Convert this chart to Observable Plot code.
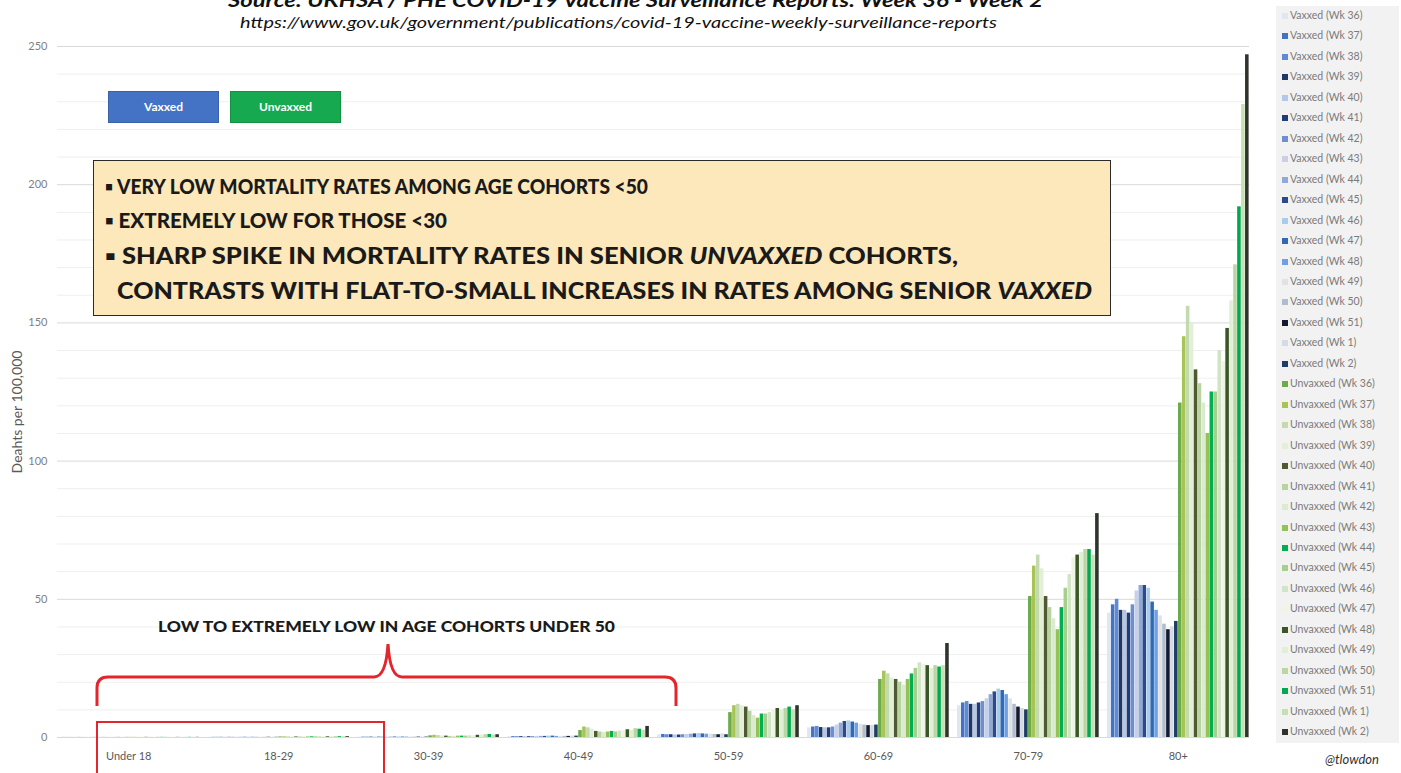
<!DOCTYPE html>
<html><head><meta charset="utf-8">
<script src="https://cdn.jsdelivr.net/npm/d3@7"></script>
<script src="https://cdn.jsdelivr.net/npm/@observablehq/plot@0.6"></script>
<style>
body{margin:0;background:#fff;}
#wrap{position:relative;width:1401px;height:773px;overflow:hidden;font-family:Lato,"Open Sans",sans-serif;}
#chart{position:absolute;left:0;top:0;}
.abs{position:absolute;white-space:nowrap;}
.title{left:228px;top:-12px;font-weight:bold;font-style:italic;font-size:19px;color:#111;}
.url{left:240px;top:12px;font-style:italic;font-size:16px;color:#111;}
.key{height:30px;width:109px;top:91px;color:#fff;font-weight:bold;font-size:12px;line-height:30px;text-align:center;}
.note{left:93px;top:160px;width:1018px;height:156px;background:#fce8bb;border:1.5px solid #2a2a2a;box-sizing:border-box;}
.note div{position:absolute;font-weight:900;font-size:22px;color:#1a1a1a;white-space:nowrap;}
.low{left:158px;top:617px;font-weight:900;font-size:15px;color:#1a1a1a;}
.leg{left:1276px;top:6px;width:123px;height:737px;background:#f2f2f2;}
.leg div{position:absolute;left:6px;font-size:10.5px;color:#7a7a7a;white-space:nowrap;line-height:12px;}
.leg span{display:inline-block;width:6px;height:6px;margin-right:2px;vertical-align:0px;}
.handle{left:1325px;top:751px;font-style:italic;font-size:13px;color:#333;}
</style></head><body><div id="wrap"></div>
<script>
const groups = ["Under 18","18-29","30-39","40-49","50-59","60-69","70-79","80+"];
const weeks = ["Wk 36","Wk 37","Wk 38","Wk 39","Wk 40","Wk 41","Wk 42","Wk 43","Wk 44","Wk 45","Wk 46","Wk 47","Wk 48","Wk 49","Wk 50","Wk 51","Wk 1","Wk 2"];
const statuses = ["Vaxxed","Unvaxxed"];
const yTicks = [0,50,100,150,200,250];

// Deaths per 100,000, one value per week
const vaxUnder18 = [0.03,0.03,0.03,0.02,0.03,0.03,0.02,0.03,0.03,0.03,0.04,0.03,0.03,0.03,0.03,0.03,0.04,0.03];
const unvUnder18 = [0.05,0.06,0.05,0.05,0.06,0.05,0.05,0.06,0.06,0.07,0.06,0.06,0.05,0.06,0.06,0.07,0.06,0.06];
const vax18to29 = [0.06,0.06,0.07,0.06,0.06,0.06,0.07,0.07,0.08,0.08,0.08,0.07,0.07,0.07,0.07,0.08,0.08,0.07];
const unv18to29 = [0.2,0.25,0.25,0.2,0.2,0.2,0.2,0.22,0.25,0.25,0.3,0.3,0.25,0.25,0.3,0.3,0.25,0.3];
const vax30to39 = [0.12,0.13,0.14,0.13,0.12,0.12,0.13,0.14,0.15,0.16,0.17,0.16,0.15,0.15,0.14,0.14,0.16,0.15];
const unv30to39 = [0.6,0.8,0.7,0.6,0.5,0.4,0.4,0.5,0.5,0.5,0.6,0.7,0.8,0.9,1.0,1.1,0.9,1.0];
const vax40to49 = [0.3,0.3,0.3,0.3,0.3,0.3,0.3,0.4,0.4,0.4,0.5,0.5,0.4,0.4,0.4,0.4,0.5,0.5];
const unv40to49 = [2.5,3.8,3.5,3.0,2.2,2.0,1.8,2.0,2.2,2.0,2.3,2.5,2.8,2.6,3.2,3.0,2.6,4.0];
const vax50to59 = [1.0,1.1,1.0,1.0,0.9,0.9,1.0,1.1,1.2,1.3,1.4,1.3,1.2,1.2,1.1,1.0,1.3,1.0];
const unv50to59 = [9,11.5,12,11.5,11,9.5,8,7,8.5,8.5,9,10,10.5,10,10.5,11,10,11.5];
const vax60to69 = [3.5,3.8,4.0,3.6,3.5,3.5,3.8,4.5,5.2,5.8,6.0,5.6,5.2,4.8,4.5,4.3,4.4,4.5];
const unv60to69 = [21,24,23,21.5,21,20,19,21,23,25,27,26.5,26,25,26,25.5,26,34];
const vax70to79 = [11.5,12.5,13,12,12,12.5,13,14,15.5,16.5,17.5,17,15.5,14,12,11,10.5,10];
const unv70to79 = [51,62,66,61,51,47,43,39,47,54,59,65,66,67,68,68,66,81];
const vax80plus = [45,48,50,46,46,45,48,53,55,55,54,49,46,44,41,39,40,42];
const unv80plus = [121,145,156,150,133,128,121,110,125,125,140,136,148,158,171,192,229,247];

const vaxColors = ["#dfe7f3","#4472c4","#5f8ad6","#1f3864","#b4c7e7","#203d7a","#6d8fd1","#c8cfe6","#8eaadb","#2a4a8c","#a9cbed","#2e6bb5","#6fa0e6","#e2e2e2","#b0bcd0","#141a2e","#d5dbe5","#1f3d66"];
const unvColors = ["#6aab4a","#a7c455","#c3d9ae","#e3efd6","#4f5a33","#b6d3a0","#dcebcf","#93c356","#00b050","#a6cf8e","#d2e4c6","#eef5e4","#3a5626","#e1eed8","#b8d7a5","#00a84f","#c6dfb3","#2e332b"];

const vaxByGroup = [vaxUnder18,vax18to29,vax30to39,vax40to49,vax50to59,vax60to69,vax70to79,vax80plus];
const unvByGroup = [unvUnder18,unv18to29,unv30to39,unv40to49,unv50to59,unv60to69,unv70to79,unv80plus];

const seriesNames = [...weeks.map(w => `Vaxxed (${w})`), ...weeks.map(w => `Unvaxxed (${w})`)];
const seriesColors = [...vaxColors, ...unvColors];

const rows = [];
const xDomain = [];
const tickKeys = [];
groups.forEach((g, gi) => {
  seriesNames.forEach((s, si) => {
    const key = g + "|" + s;
    xDomain.push(key);
    const value = si < 18 ? vaxByGroup[gi][si] : unvByGroup[gi][si - 18];
    rows.push({group: g, series: s, key, value});
    if (si === 17) tickKeys.push(key);
  });
  if (gi < groups.length - 1) xDomain.push("gap" + gi + "a", "gap" + gi + "b");
});

const chart = Plot.plot({
  width: 1401, height: 773,
  marginLeft: 57, marginRight: 152, marginTop: 46, marginBottom: 36,
  style: {fontFamily: "Lato, sans-serif", background: "transparent"},
  x: {type: "band", domain: xDomain, padding: 0.1},
  y: {domain: [0, 250]},
  color: {domain: seriesNames, range: seriesColors},
  marks: [
    Plot.ruleY(d3.range(0, 251, 10).filter(v => v % 50 !== 0), {stroke: "#efefef"}),
    Plot.ruleY(yTicks, {stroke: "#d9d9d9"}),
    Plot.barY(rows, {x: "key", y: "value", fill: "series"}),
    Plot.axisY(yTicks, {tickSize: 0, tickPadding: 10, fontSize: 11, color: "#7f7f7f", label: null}),
    Plot.text(["Deahts per 100,000"], {frameAnchor: "left", textAnchor: "middle", rotate: -90, dx: -40, dy: 20, fontSize: 14, fill: "#595959"}),
    Plot.axisX(tickKeys, {tickSize: 0, tickPadding: 15, fontSize: 11, color: "#595959", dx: 2, tickFormat: k => k.split("|")[0], label: null})
  ]
});
chart.id = "chart";
const wrap = document.getElementById("wrap");
wrap.appendChild(chart);

function fit(el, w) {
  const cur = el.getBoundingClientRect().width;
  if (cur > 0) el.style.transform = `scaleX(${w / cur})`;
  el.style.transformOrigin = "0 50%";
}
function addDiv(cls, html, style) {
  const d = document.createElement("div");
  d.className = "abs " + cls;
  d.innerHTML = html;
  if (style) Object.assign(d.style, style);
  wrap.appendChild(d);
  return d;
}
fit(addDiv("title", "Source: UKHSA / PHE COVID-19 Vaccine Surveillance Reports: Week 36 - Week 2"), 815);
fit(addDiv("url", "https://www.gov.uk/government/publications/covid-19-vaccine-weekly-surveillance-reports"), 757);
addDiv("key", "Vaxxed", {left: "108px", background: "#4472c4", border: "1px solid #3a62a8"});
addDiv("key", "Unvaxxed", {left: "230px", background: "#17a94f", border: "1px solid #129044"});
const note = addDiv("note", "");
const noteLines = [
  ["▪ VERY LOW MORTALITY RATES AMONG AGE COHORTS &lt;50", 10.5, 13, 543, 20.5],
  ["▪ EXTREMELY LOW FOR THOSE &lt;30", 10.5, 47, 342, 20.5],
  ["▪ SHARP SPIKE IN MORTALITY RATES IN SENIOR <i>UNVAXXED</i> COHORTS,", 10.5, 81, 853, 22],
  ["CONTRASTS WITH FLAT-TO-SMALL INCREASES IN RATES AMONG SENIOR <i>VAXXED</i>", 22.5, 116, 975, 22]
];
noteLines.forEach(([t, l, tp, w, fs]) => {
  const d = document.createElement("div");
  d.innerHTML = t; d.style.left = l + "px"; d.style.top = tp + "px"; d.style.fontSize = fs + "px";
  note.appendChild(d);
  fit(d, w);
});
fit(addDiv("low", "LOW TO EXTREMELY LOW IN AGE COHORTS UNDER 50"), 457);

// bracket + box overlay
const ns = "http://www.w3.org/2000/svg";
const ov = document.createElementNS(ns, "svg");
ov.setAttribute("width", 1401); ov.setAttribute("height", 773);
ov.style.position = "absolute"; ov.style.left = "0"; ov.style.top = "0";
ov.innerHTML = `<path d="M97,706 L97,688 Q97,677 108,677 L374,677 Q386,677 388,644 Q390,677 402,677 L665,677 Q676,677 676,688 L676,706" fill="none" stroke="#e2262b" stroke-width="3"/>
<rect x="97" y="722" width="287" height="60" fill="none" stroke="#e2262b" stroke-width="2"/>`;
wrap.appendChild(ov);

const leg = addDiv("leg", "");
seriesNames.forEach((s, i) => {
  const d = document.createElement("div");
  d.style.top = (3 + i * 20.46) + "px";
  d.innerHTML = `<span style="background:${seriesColors[i]}"></span>${s}`;
  leg.appendChild(d);
});
addDiv("handle", "@tlowdon");
</script></body></html>
